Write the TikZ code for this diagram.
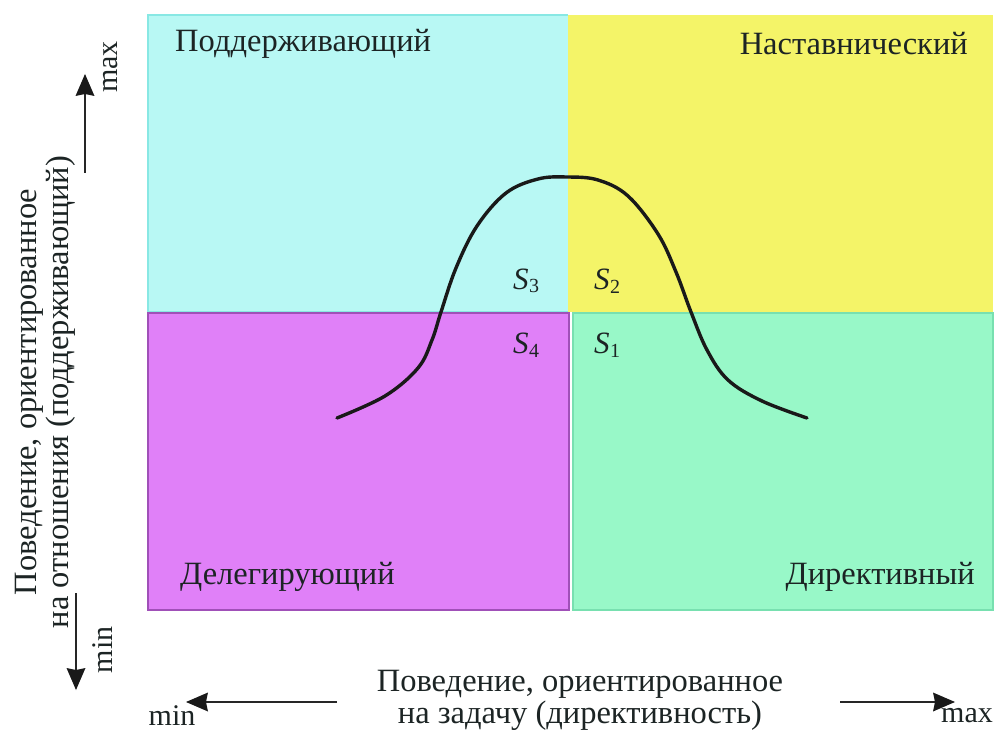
\documentclass[tikz,border=0pt]{standalone}
\usepackage{fontspec}
\setmainfont{Liberation Serif}
\usetikzlibrary{calc}
\definecolor{qcyan}{HTML}{B8F8F4}
\definecolor{qcyanb}{HTML}{88E8E4}
\definecolor{qyellow}{HTML}{F4F468}
\definecolor{qmag}{HTML}{E080F8}
\definecolor{qmagb}{HTML}{A050B8}
\definecolor{qgreen}{HTML}{98F8C8}
\definecolor{qgreenb}{HTML}{78E0B0}
\definecolor{txt}{HTML}{1C2424}
\tikzset{
  lbl/.style={font=\fontsize{32.5}{36}\selectfont, text=txt, inner sep=0pt},
  axtxt/.style={font=\fontsize{32.5}{32}\selectfont, text=txt, align=center, inner sep=0pt},
  mm/.style={font=\fontsize{30}{32}\selectfont, text=txt, inner sep=0pt},
  slbl/.style={font=\fontsize{31}{32}\selectfont, text=txt, inner sep=0pt},
  axline/.style={line width=2.4pt, draw=black!85},
  axhead/.style={fill=black!90},
  curve/.style={line width=3.4pt, draw=black!90, line cap=round}
}
\newcommand{\Ssub}[1]{\textit{S}\kern0.5pt\raisebox{-0.25ex}{\fontsize{20}{22}\selectfont #1}}
\newcommand{\axarr}[2]{%
  \draw[axline] (#1) -- ($(#2)!18pt!(#1)$);
  \fill[axhead] (#2) -- ($(#2)!22pt!(#1)!9.5pt!90:(#2)$) -- ($(#2)!20pt!(#1)$) -- ($(#2)!22pt!(#1)!9.5pt!-90:(#2)$) -- cycle;}
\begin{document}
\begin{tikzpicture}[x=1pt,y=-1pt]
\useasboundingbox (0,0) rectangle (997,733);
% quadrants
\fill[qcyan] (148,15) rectangle (568,312);
\draw[qcyanb, line width=1.2pt] (568,312) -- (148,312) -- (148,15) -- (568,15);
\fill[qyellow] (568,15) rectangle (993,312);
\fill[qmag] (148,313) rectangle (569,610);
\draw[qmagb, line width=1.5pt] (148,313) rectangle (569,610);
\fill[qgreen] (573,313) rectangle (993,610);
\draw[qgreenb, line width=1.5pt] (573,313) rectangle (993,610);
% labels
\node[lbl, anchor=west] (sup) at (175,44) {Поддерживающий};
\node[lbl, anchor=east] (coach) at (968,44) {Наставнический};
\node[lbl, anchor=west] (del) at (180,577) {Делегирующий};
\node[lbl, anchor=east] (dir) at (975,577) {Директивный};
% S labels
\node[slbl] (s3) at (526,281) {\Ssub{3}};
\node[slbl] (s2) at (607,281) {\Ssub{2}};
\node[slbl] (s4) at (526,345) {\Ssub{4}};
\node[slbl] (s1) at (607,345) {\Ssub{1}};
% curve
\draw[curve] plot[smooth, tension=0.6] coordinates {
 (337,418) (385,396) (418,368) (432,340) (441,312) (456,268) (477,226)
 (506,193) (538,179) (567,177) (598,180) (628,196) (658,234) (676,272)
 (691,312) (707,350) (728,380) (762,401) (807,418)};
% left axis
\node[axtxt, rotate=90] (ltxt) at (45,392) {Поведение, ориентированное\\на отношения (поддерживающий)};
\coordinate (uA) at (85,173);
\coordinate (uB) at (85,74);
\axarr{uA}{uB}
\node[mm, rotate=90] (lmax) at (111,67) {max};
\coordinate (dA) at (76,593);
\coordinate (dB) at (76,690);
\axarr{dA}{dB}
\node[mm, rotate=90] (lmin) at (103,650) {min};
% bottom axis
\node[axtxt] (btxt) at (580,700) {Поведение, ориентированное\\на задачу (директивность)};
\coordinate (lA) at (337,702);
\coordinate (lB) at (186,702);
\axarr{lA}{lB}
\node[mm] (bmin) at (172,716) {min};
\coordinate (rA) at (840,702);
\coordinate (rB) at (955,702);
\axarr{rA}{rB}
\node[mm] (bmax) at (967,716) {max};
\end{tikzpicture}
\end{document}
